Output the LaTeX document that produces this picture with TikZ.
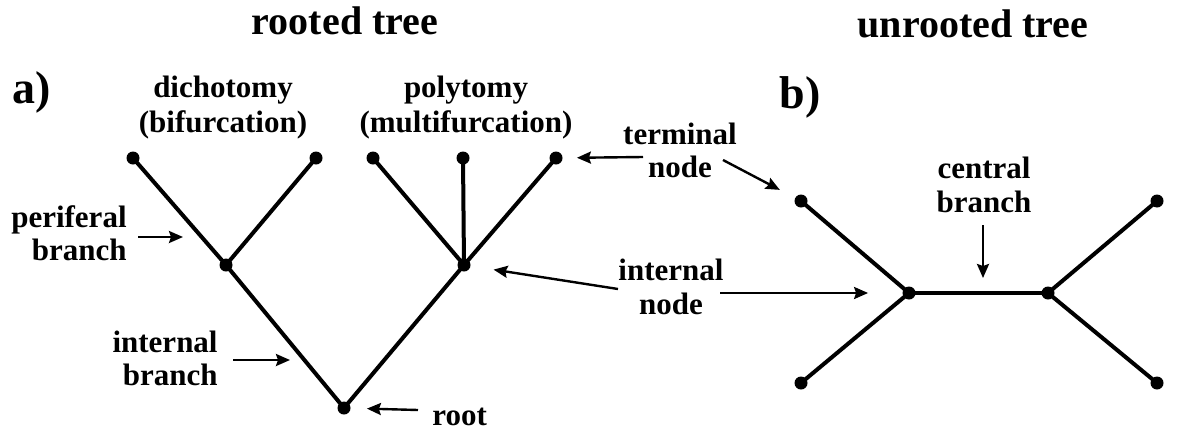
\documentclass[tikz,border=0pt]{standalone}
\usepackage{fontspec}
\setmainfont{Liberation Serif}
\usetikzlibrary{arrows.meta}
\begin{document}
\begin{tikzpicture}[x=0.5pt,y=-0.5pt,
  dot/.style={circle,fill=black,inner sep=0pt,minimum size=6.5pt},
  branch/.style={line width=2pt},
  arr/.style={line width=1.2pt,-{Stealth[length=7pt,width=6pt,inset=1pt]}},
  lbl/.style={font=\bfseries\fontsize{15.5}{17}\selectfont,inner sep=0pt,anchor=base},
  ttl/.style={font=\bfseries\fontsize{20}{24}\selectfont,inner sep=0pt,anchor=base},
  letter/.style={font=\bfseries\fontsize{23}{28}\selectfont,inner sep=0pt}]
\fill[white] (0,0) rectangle (1194,429);
\useasboundingbox (0,0) rectangle (1194,429);

% titles
\node[ttl] (t1) at (345,34) {rooted tree};
\node[ttl] (t2) at (973,37) {unrooted tree};
\node[letter] (la) at (32,92) {a)};
\node[letter] (lb) at (800,97) {b)};

% rooted tree nodes
\node[dot] (l1) at (133,158) {};
\node[dot] (l2) at (316,158) {};
\node[dot] (l3) at (373,158) {};
\node[dot] (l4) at (463,158) {};
\node[dot] (l5) at (556,158) {};
\node[dot] (A) at (226,265) {};
\node[dot] (B) at (464,265) {};
\node[dot] (R) at (344,408) {};

\draw[branch] (l1.center) -- (A.center) -- (l2.center);
\draw[branch] (l3.center) -- (B.center) (l4.center) -- (B.center) (l5.center) -- (B.center);
\draw[branch] (A.center) -- (R.center) -- (B.center);

% unrooted tree nodes
\node[dot] (u1) at (801,201) {};
\node[dot] (u2) at (801,383) {};
\node[dot] (u3) at (1157,201) {};
\node[dot] (u4) at (1157,383) {};
\node[dot] (C) at (909,293) {};
\node[dot] (D) at (1048,293) {};

\draw[branch] (u1.center) -- (C.center) -- (u2.center);
\draw[branch] (u3.center) -- (D.center) -- (u4.center);
\draw[branch] (C.center) -- (D.center);

% labels
\node[lbl] (dich1) at (223,97) {dichotomy};
\node[lbl] (dich2) at (223,132) {(bifurcation)};
\node[lbl] (poly1) at (466,97) {polytomy};
\node[lbl] (poly2) at (466,132) {(multifurcation)};
\node[lbl,anchor=base east] (per1) at (127,227) {periferal};
\node[lbl,anchor=base east] (per2) at (127,260) {branch};
\node[lbl,anchor=base east] (ib1) at (218,352) {internal};
\node[lbl,anchor=base east] (ib2) at (218,385) {branch};
\node[lbl,anchor=base west] (rootl) at (432,425) {root};
\node[lbl] (term1) at (680,144) {terminal};
\node[lbl] (term2) at (680,177) {node};
\node[lbl] (in1) at (671,280) {internal};
\node[lbl] (in2) at (671,314) {node};
\node[lbl] (cen1) at (984,178) {central};
\node[lbl] (cen2) at (984,212) {branch};

% arrow coordinates
\coordinate (p1) at (138,237);
\coordinate (p2) at (183,237);
\coordinate (i1) at (233,360);
\coordinate (i2) at (290,360);
\coordinate (r1) at (418,410);
\coordinate (ta) at (643,157);
\coordinate (tb) at (723,160);
\coordinate (na) at (618,289);
\coordinate (nb) at (720,293);
\coordinate (c1) at (983,225);

\draw[arr] (p1) -- (p2);
\draw[arr] (i1) -- (i2);
\draw[arr,shorten >=8pt] (r1) -- (R);
\draw[arr,shorten >=7pt] (ta) -- (l5);
\draw[arr,shorten >=8.5pt] (tb) -- (u1);
\draw[arr,shorten >=11.5pt] (na) -- (B);
\draw[arr,shorten >=17pt] (nb) -- (C);
\draw[arr,shorten >=7.5pt] (c1) -- (c1 |- C);
\end{tikzpicture}
\end{document}
